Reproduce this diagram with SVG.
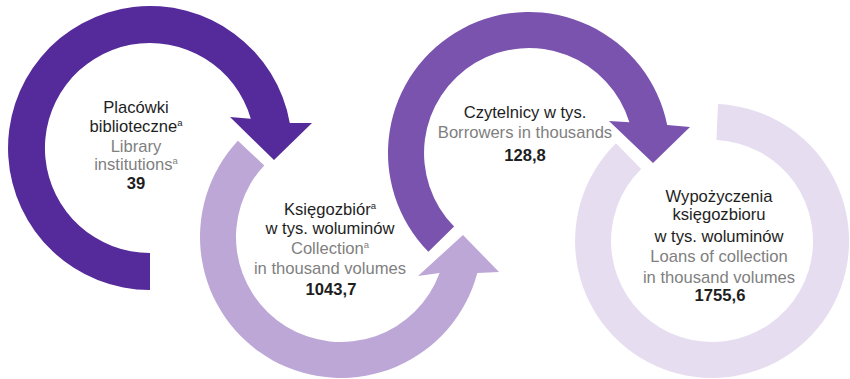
<svg xmlns="http://www.w3.org/2000/svg" width="850" height="379" viewBox="0 0 850 379">
<style>
text{font-family:"Liberation Sans",Arial,sans-serif;font-size:16.6px;text-anchor:middle}
.d{fill:#1e1e1e}
.g{fill:#7f7f7f}
.b{fill:#1e1e1e;font-weight:bold}
.s{font-size:9.5px}
</style>
<rect width="850" height="379" fill="#ffffff"/>
<g id="node-placowki">
<path fill="#552A9A" d="M150,290 A142,142 0 1 1 289.8,122.9 L312,123 L274,160 L230,117 L250.8,118.8 A105,105 0 1 0 150,253 Z"/>
<text class="d" x="136" y="113">Placówki</text>
<text class="d" x="136" y="132">biblioteczne<tspan class="s" dy="-6">a</tspan></text>
<text class="g" x="136" y="152">Library</text>
<text class="g" x="136" y="170">institutions<tspan class="s" dy="-6">a</tspan></text>
<text class="b" x="136" y="189">39</text>
</g>
<g id="node-ksiegozbior">
<path fill="#BDA7D7" d="M237.9,140.8 A141,141 0 1 0 477.3,273.1 L499,272 L463,235 L418,276 L439.6,273.1 A105,105 0 1 1 264.2,165.4 Z"/>
<text class="d" x="330" y="215">Księgozbiór<tspan class="s" dy="-6">a</tspan></text>
<text class="d" x="330" y="234">w tys. woluminów</text>
<text class="g" x="330" y="254">Collection<tspan class="s" dy="-6">a</tspan></text>
<text class="g" x="330" y="274">in thousand volumes</text>
<text class="b" x="331" y="295">1043,7</text>
</g>
<g id="node-czytelnicy">
<path fill="#7953AE" d="M428.4,251.8 A141,141 0 1 1 667.2,125.1 L690,127 L653,163 L609,121 L629.4,122.2 A105,105 0 1 0 454.1,226.6 Z"/>
<text class="d" x="525" y="118">Czytelnicy w tys.</text>
<text class="g" x="525" y="138">Borrowers in thousands</text>
<text class="b" x="525" y="161">128,8</text>
</g>
<g id="node-wypozyczenia">
<path fill="#E7DDF1" d="M718,104.1 A137,137 0 1 1 616,143.3 L641.2,169 A101,101 0 1 0 716.4,140.1 Z"/>
<text class="d" x="719" y="202">Wypożyczenia</text>
<text class="d" x="719" y="220">księgozbioru</text>
<text class="d" x="719" y="242">w tys. woluminów</text>
<text class="g" x="719" y="262">Loans of collection</text>
<text class="g" x="719" y="283">in thousand volumes</text>
<text class="b" x="720" y="301">1755,6</text>
</g>
<g id="connectors"></g>
</svg>
